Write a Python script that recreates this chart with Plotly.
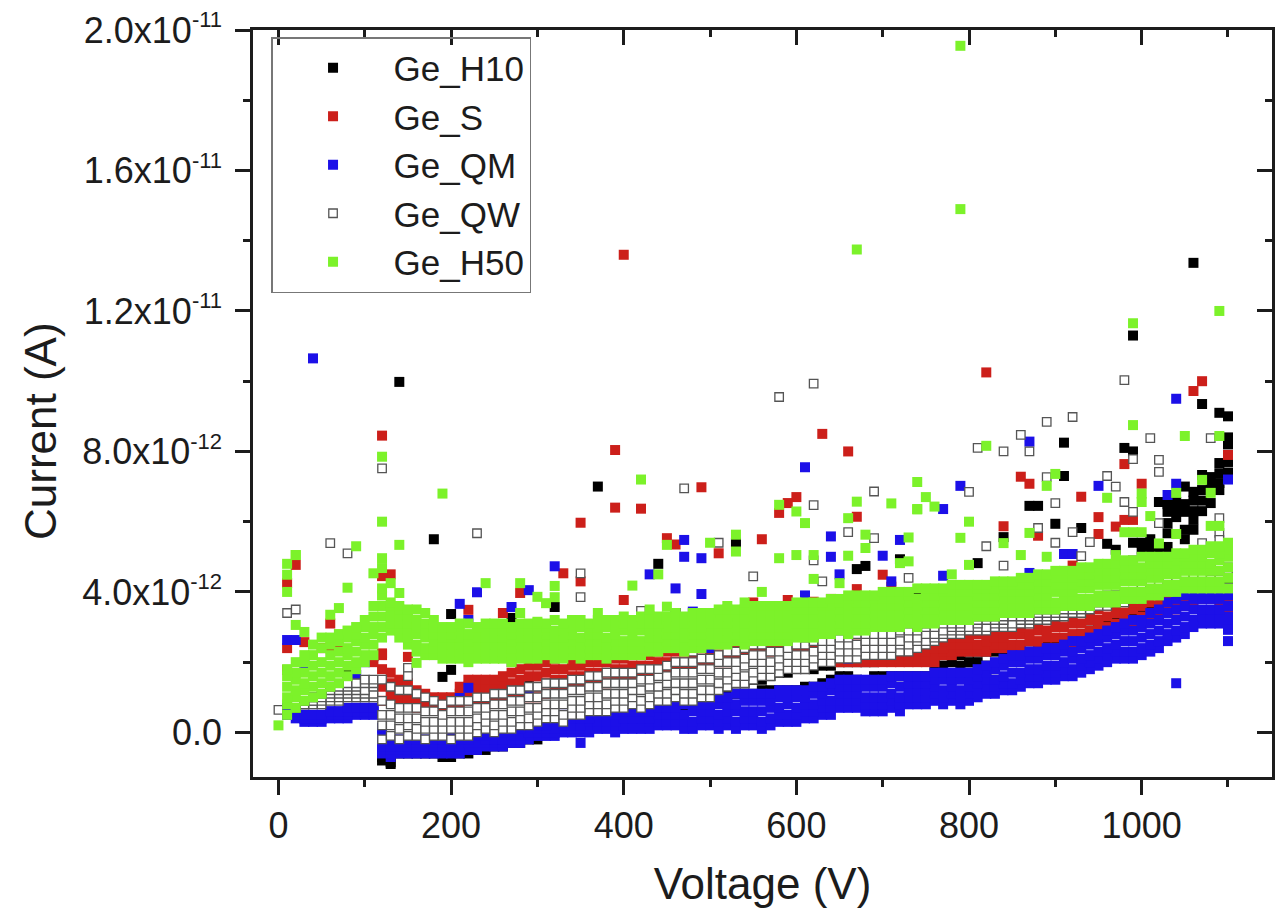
import plotly.graph_objects as go

SERIES_NAMES = ["Ge_H10", "Ge_S", "Ge_QM", "Ge_QW", "Ge_H50"]
X_TICKS = [0, 200, 400, 600, 800, 1000]
X_TICK_LABELS = ["0", "200", "400", "600", "800", "1000"]
Y_TICKS_PA = [0, 4, 8, 12, 16, 20]
SUP = '<sup><span style="font-size:22px">%s</span></sup>'
Y_TICK_LABELS = ["0.0", "4.0x10" + SUP % "-12", "8.0x10" + SUP % "-12", "1.2x10" + SUP % "-11",
                 "1.6x10" + SUP % "-11", "2.0x10" + SUP % "-11"]
PICOAMP = 1e-12

# Voltage grid of the sweep (V)
V = list(range(0, 1110, 10))
V10 = V[1:]
V20 = V[2:]
V120 = V[12:]

# Values below are in pA.
# Ge_H50 dense band, V = 10..1100
H50_1 = [.5,.7,.9,1.0,1.1,1.3,1.4,1.6,1.8,2.0,
 2.2,2.7,2.9,2.7,2.5,2.3,2.2,2.2,2.1,2.1,
 2.1,2.0,2.1,2.1,2.1,2.1,2.0,2.1,2.1,2.1,
 2.2,2.1,2.1,2.2,2.1,2.2,2.2,2.1,2.2,2.2,
 2.2,2.2,2.3,2.3,2.4,2.4,2.3,2.4,2.4,2.5,
 2.5,2.5,2.6,2.5,2.6,2.6,2.6,2.6,2.6,2.7,
 2.7,2.7,2.8,2.8,2.9,2.8,2.9,2.9,3.0,3.0,
 3.0,3.0,3.1,3.0,3.1,3.1,3.2,3.2,3.2,3.2,
 3.3,3.3,3.3,3.4,3.4,3.4,3.4,3.5,3.5,3.5,
 3.6,3.6,3.6,3.6,3.7,3.7,3.7,3.8,3.8,3.8,
 3.9,3.9,4.0,4.0,4.1,4.1,4.1,4.1,4.1,4.1]
H50_2 = [.8,1.0,1.2,1.3,1.4,1.6,1.7,1.9,2.0,2.2,
 2.5,3.0,3.1,2.9,2.7,2.5,2.4,2.4,2.3,2.3,
 2.3,2.2,2.3,2.3,2.3,2.3,2.2,2.3,2.3,2.3,
 2.4,2.3,2.3,2.4,2.3,2.4,2.4,2.3,2.4,2.4,
 2.4,2.4,2.5,2.5,2.6,2.6,2.5,2.6,2.6,2.7,
 2.7,2.7,2.8,2.7,2.8,2.8,2.8,2.8,2.8,2.9,
 2.9,2.9,3.0,3.0,3.1,3.0,3.1,3.1,3.2,3.2,
 3.2,3.2,3.3,3.2,3.3,3.3,3.4,3.4,3.4,3.4,
 3.5,3.5,3.5,3.6,3.6,3.6,3.6,3.7,3.7,3.7,
 3.8,3.8,3.8,3.8,3.9,3.9,3.9,4.0,4.0,4.0,
 4.1,4.1,4.2,4.2,4.3,4.3,4.3,4.3,4.3,4.4]
H50_3 = [1.0,1.2,1.4,1.6,1.7,1.9,2.0,2.2,2.3,2.5,
 2.8,3.3,3.3,3.1,2.9,2.8,2.7,2.6,2.5,2.5,
 2.5,2.4,2.5,2.5,2.5,2.5,2.4,2.5,2.5,2.5,
 2.6,2.5,2.5,2.6,2.5,2.6,2.6,2.5,2.6,2.6,
 2.6,2.6,2.7,2.7,2.8,2.8,2.7,2.8,2.8,2.9,
 2.9,2.9,3.0,2.9,3.0,3.0,3.0,3.0,3.0,3.1,
 3.1,3.1,3.2,3.2,3.3,3.2,3.3,3.3,3.4,3.4,
 3.4,3.4,3.5,3.4,3.5,3.5,3.6,3.6,3.6,3.6,
 3.7,3.7,3.7,3.8,3.8,3.8,3.8,3.9,3.9,4.0,
 4.0,4.0,4.1,4.1,4.2,4.2,4.2,4.3,4.3,4.3,
 4.4,4.4,4.5,4.5,4.6,4.6,4.6,4.6,4.6,4.7]
H50_4 = [1.3,1.5,1.7,1.9,2.0,2.2,2.3,2.4,2.6,2.7,
 3.0,3.6,3.4,3.3,3.1,3.0,2.9,2.8,2.7,2.7,
 2.7,2.6,2.7,2.7,2.7,2.7,2.6,2.7,2.7,2.7,
 2.8,2.7,2.7,2.8,2.7,2.8,2.8,2.7,2.8,2.9,
 2.8,2.9,2.9,2.9,3.0,3.0,2.9,3.0,3.0,3.1,
 3.1,3.1,3.2,3.1,3.2,3.2,3.2,3.2,3.2,3.3,
 3.3,3.3,3.4,3.4,3.5,3.4,3.5,3.5,3.6,3.6,
 3.6,3.6,3.7,3.6,3.7,3.7,3.8,3.8,3.8,3.8,
 3.9,3.9,3.9,4.0,4.0,4.0,4.0,4.1,4.1,4.2,
 4.2,4.2,4.3,4.3,4.4,4.4,4.4,4.5,4.5,4.5,
 4.6,4.6,4.6,4.7,4.8,4.8,4.8,4.8,4.9,5.0]
H50_5 = [1.6,1.7,2.0,2.2,2.4,2.5,2.6,2.7,2.8,3.0,
 3.3,3.9,3.6,3.5,3.3,3.2,3.1,3.0,2.9,2.8,
 2.9,2.8,2.9,2.9,2.9,2.9,2.8,2.9,2.9,2.9,
 3.0,2.9,2.9,3.0,3.0,3.0,3.0,3.0,3.0,3.1,
 3.0,3.1,3.1,3.1,3.2,3.2,3.1,3.2,3.2,3.3,
 3.3,3.3,3.4,3.3,3.4,3.4,3.4,3.4,3.4,3.5,
 3.5,3.5,3.6,3.6,3.7,3.6,3.7,3.7,3.8,3.8,
 3.8,3.8,3.9,3.8,3.9,3.9,4.0,4.0,4.0,4.0,
 4.1,4.1,4.1,4.2,4.2,4.2,4.2,4.3,4.3,4.4,
 4.4,4.4,4.5,4.5,4.6,4.6,4.6,4.7,4.7,4.7,
 4.8,4.8,4.8,4.9,5.0,5.0,5.0,5.1,5.1,5.2]
H50_6 = [1.8,2.0,2.2,2.5,2.7,2.7,2.8,2.9,3.0,3.2,
 3.6,4.1,3.7,3.6,3.5,3.5,3.4,3.2,3.0,3.0,
 3.1,3.1,3.0,3.1,3.1,3.1,3.0,3.1,3.1,3.1,
 3.1,3.2,3.1,3.2,3.2,3.1,3.2,3.2,3.2,3.3,
 3.2,3.3,3.3,3.3,3.3,3.4,3.3,3.4,3.4,3.4,
 3.5,3.5,3.5,3.5,3.6,3.6,3.6,3.6,3.6,3.7,
 3.7,3.7,3.7,3.8,3.8,3.8,3.9,3.9,3.9,4.0,
 4.0,4.0,4.0,4.1,4.1,4.1,4.1,4.2,4.2,4.2,
 4.2,4.2,4.3,4.3,4.3,4.4,4.4,4.5,4.5,4.6,
 4.6,4.6,4.7,4.7,4.8,4.8,4.8,4.9,4.9,5.0,
 5.0,5.0,5.0,5.1,5.1,5.2,5.2,5.3,5.3,5.4]
H50_OUT_V = [790,790,670,1090,990,990,120,120,190,20,10,420,580,600,610,670,710,740,660,680,680,730,730,720,620,600,580,660,
 530,530,500,450,450,410,440,370,430,520,540,560,620,650,660,740,750,760,740,800,790,820,1050,1090,900,890,960,1000,1000,
 1010,1040,1070,1080,1040,1080,1090,980,990,1000,870,840,860,890,800,780,1020,970,120,120,20,10,10,90,140,80,70,60,110,
 130,140,240,280,320,300,310,320,20,30,160,0,280,300]
H50_OUT_I = [19.55,14.9,13.75,12.0,11.65,8.75,6.0,7.85,6.8,5.05,4.8,7.2,6.48,6.29,5.96,6.57,6.52,6.35,6.1,5.63,5.25,5.55,4.87,4.82,5.05,5.05,4.96,5.03,
 5.63,5.15,5.4,5.34,3.58,4.18,4.5,3.4,3.5,3.6,3.7,4.0,4.37,4.25,3.9,7.13,6.7,6.43,6.36,6.0,5.54,8.16,8.44,8.44,7.36,7.02,6.68,6.8,6.56,
 6.16,6.82,7.19,6.82,5.65,5.88,5.88,5.7,5.7,5.7,5.68,5.39,5.05,5.0,4.77,4.5,5.38,5.05,4.96,4.68,5.05,4.49,4.0,5.3,5.34,4.12,3.54,3.35,4.53,
 4.25,3.97,4.25,4.25,4.17,3.86,3.68,3.85,3.06,2.86,1.98,0.2,3.4,3.15]

# Ge_QW dense band, V = 20..1100
QW_1 = [.7,.8,.8,.8,.9,.9,1.0,1.0,1.0,
 1.0,-.2,-.1,-.2,-.1,-.1,-.2,-.1,-.1,-.2,
 -.1,-.1,0,.1,0,.1,.1,.2,.2,.3,
 .4,.4,.3,.5,.5,.6,.6,.6,.7,.7,
 .8,.7,.8,.9,.9,1.0,.9,.9,1.0,1.0,
 1.2,1.3,1.4,1.4,1.5,1.6,1.6,1.7,1.8,1.8,
 1.8,1.9,2.0,2.0,2.1,2.1,2.1,2.2,2.2,2.2,
 2.2,2.3,2.3,2.4,2.5,2.6,2.7,2.8,2.8,2.9,
 2.9,2.9,3.0,3.0,3.0,3.1,3.1,3.2,3.2,3.3,
 3.3,3.4,3.4,3.5,3.6,3.6,3.7,3.7,3.8,3.9,
 4.0,4.1,4.1,4.2,4.2,4.3,4.3,4.4,4.4,4.5]
QW_2 = [.7,.8,.9,.9,1.0,1.0,1.1,1.1,1.1,
 1.1,.2,.2,.1,.2,.1,.1,.1,.1,.1,
 .1,.1,.2,.3,.2,.3,.3,.4,.4,.5,
 .6,.6,.5,.7,.7,.8,.8,.8,.9,.9,
 1.0,.9,1.0,1.1,1.1,1.2,1.1,1.1,1.2,1.2,
 1.4,1.5,1.6,1.6,1.7,1.8,1.8,1.9,2.0,2.0,
 2.0,2.1,2.2,2.2,2.3,2.3,2.3,2.4,2.4,2.4,
 2.4,2.5,2.5,2.6,2.6,2.7,2.8,2.9,2.9,3.0,
 3.0,3.0,3.1,3.1,3.1,3.2,3.2,3.3,3.3,3.4,
 3.4,3.5,3.5,3.6,3.7,3.7,3.8,3.8,3.9,4.0,
 4.1,4.1,4.2,4.3,4.3,4.4,4.4,4.5,4.5,4.6]
QW_3 = [.8,.9,.9,1.0,1.1,1.1,1.2,1.2,1.2,
 1.3,.5,.5,.4,.4,.4,.3,.3,.3,.3,
 .3,.3,.4,.5,.5,.5,.6,.6,.7,.7,
 .8,.8,.8,.9,.9,1.0,1.0,1.1,1.1,1.1,
 1.2,1.2,1.3,1.3,1.4,1.4,1.4,1.4,1.5,1.5,
 1.7,1.7,1.8,1.9,2.0,2.0,2.0,2.1,2.2,2.2,
 2.2,2.3,2.4,2.4,2.5,2.5,2.5,2.6,2.6,2.6,
 2.6,2.6,2.7,2.7,2.8,2.8,2.9,3.0,3.0,3.0,
 3.1,3.2,3.2,3.2,3.3,3.3,3.3,3.4,3.4,3.5,
 3.5,3.6,3.6,3.7,3.7,3.8,3.8,3.9,3.9,4.0,
 4.1,4.1,4.2,4.3,4.3,4.4,4.4,4.5,4.5,4.6]
QW_4 = [.8,.9,1.0,1.1,1.2,1.2,1.3,1.3,1.4,
 1.4,.9,.8,.7,.7,.7,.6,.6,.5,.6,
 .6,.6,.7,.7,.8,.8,.9,.9,1.0,1.0,
 1.1,1.1,1.1,1.2,1.2,1.3,1.3,1.4,1.4,1.4,
 1.4,1.5,1.5,1.6,1.6,1.7,1.7,1.7,1.8,1.8,
 2.0,2.0,2.0,2.1,2.2,2.2,2.3,2.3,2.4,2.5,
 2.5,2.6,2.6,2.6,2.7,2.7,2.8,2.8,2.8,2.8,
 2.8,2.9,2.9,2.9,3.0,3.0,3.1,3.1,3.1,3.2,
 3.2,3.3,3.3,3.3,3.4,3.4,3.4,3.5,3.5,3.6,
 3.6,3.6,3.7,3.7,3.8,3.8,3.9,3.9,4.0,4.1,
 4.2,4.2,4.2,4.3,4.4,4.4,4.5,4.5,4.6,4.6]
QW_5 = [.8,.9,1.0,1.2,1.3,1.3,1.4,1.4,1.5,
 1.5,1.5,1.3,1.2,1.2,1.1,1.0,.9,.8,.9,
 .9,.9,1.0,1.0,1.1,1.1,1.2,1.2,1.3,1.3,
 1.4,1.4,1.4,1.5,1.5,1.6,1.6,1.7,1.7,1.7,
 1.7,1.8,1.8,1.8,1.9,2.0,2.0,2.0,2.1,2.1,
 2.2,2.3,2.3,2.4,2.5,2.5,2.6,2.7,2.7,2.8,
 2.7,2.8,2.9,2.8,2.9,2.9,3.0,3.0,3.0,3.0,
 3.1,3.1,3.1,3.1,3.1,3.2,3.2,3.3,3.3,3.3,
 3.3,3.4,3.4,3.4,3.5,3.5,3.5,3.6,3.6,3.6,
 3.7,3.7,3.8,3.8,3.8,3.9,3.9,4.0,4.0,4.1,
 4.2,4.2,4.3,4.4,4.4,4.5,4.5,4.6,4.7,4.7]
QW_OUT_V = [0,60,80,230,10,20,350,350,270,330,150,150,470,690,620,660,690,510,550,620,630,420,480,730,
 580,620,980,120,920,890,860,810,840,870,1010,1080,1020,1020,990,960,970,800,890,980,990,900,880,920,900,940,820,1020,
 1090,1090,1090,1070,840,930,1000,990,980]
QW_OUT_I = [0.64,5.39,5.1,5.67,3.4,3.5,4.53,3.85,2.0,2.15,1.84,1.6,6.95,6.86,6.47,5.7,5.53,5.4,4.44,4.9,4.3,3.46,2.3,4.4,
 9.55,9.93,10.03,7.52,8.98,8.84,8.47,8.1,8.0,8.0,8.38,8.38,7.76,7.42,7.78,7.3,7.0,6.85,7.27,6.56,6.28,6.53,5.82,5.7,5.4,5.42,5.3,5.96,
 6.1,5.68,5.48,5.39,4.75,5.02,4.9,4.9,4.82]

# Ge_QM dense band, V = 10..1100
QM_1 = [.5,.4,.3,.3,.3,.4,.4,.4,.5,.5,
 .5,-.6,-.7,-.6,-.6,-.6,-.6,-.6,-.6,-.6,
 -.6,-.5,-.5,-.4,-.4,-.4,-.3,-.3,-.2,-.1,
 -.1,-.1,0,0,0,0,.1,.1,0,.1,
 .1,.1,.1,.2,.2,.2,.1,.1,.2,.2,
 .1,.2,.1,.2,.2,.1,.2,.3,.3,.3,
 .4,.4,.5,.5,.7,.7,.7,.6,.6,.6,
 .7,.6,.8,.8,.8,.9,.8,.9,.8,.9,
 1.0,1.1,1.1,1.2,1.2,1.3,1.4,1.4,1.5,1.5,
 1.6,1.6,1.7,1.8,1.9,2.0,2.1,2.1,2.1,2.2,
 2.3,2.4,2.6,2.7,2.8,3.0,3.1,3.1,3.1,3.1]
QM_2 = [.6,.5,.4,.4,.4,.5,.5,.5,.6,.6,
 .6,-.5,-.6,-.5,-.5,-.5,-.5,-.5,-.5,-.5,
 -.5,-.4,-.4,-.3,-.3,-.3,-.2,-.2,-.1,0,
 0,0,.1,.1,.1,.1,.2,.2,.2,.2,
 .2,.2,.3,.3,.3,.3,.3,.3,.4,.4,
 .3,.4,.3,.4,.4,.3,.4,.5,.5,.5,
 .6,.6,.7,.7,.9,.9,.9,.8,.8,.8,
 .9,.8,1.0,1.0,1.0,1.1,1.0,1.1,1.0,1.1,
 1.2,1.3,1.3,1.4,1.4,1.5,1.6,1.6,1.7,1.7,
 1.8,1.8,1.9,2.0,2.1,2.2,2.3,2.3,2.3,2.4,
 2.5,2.6,2.8,2.9,3.0,3.2,3.3,3.3,3.3,3.3]
QM_3 = [.6,.5,.4,.4,.4,.5,.5,.6,.6,.6,
 .6,-.4,-.5,-.4,-.4,-.4,-.4,-.4,-.4,-.4,
 -.4,-.3,-.3,-.2,-.2,-.2,-.1,-.1,0,.1,
 .1,.1,.2,.2,.2,.3,.3,.3,.3,.4,
 .4,.4,.4,.5,.5,.5,.5,.6,.6,.6,
 .5,.6,.6,.6,.6,.6,.7,.7,.8,.7,
 .8,.8,.9,.9,1.1,1.1,1.1,1.0,1.0,1.0,
 1.1,1.0,1.2,1.2,1.2,1.3,1.2,1.3,1.2,1.3,
 1.4,1.5,1.5,1.6,1.7,1.7,1.8,1.8,1.9,1.9,
 2.0,2.1,2.1,2.2,2.3,2.4,2.5,2.6,2.6,2.7,
 2.8,2.9,3.1,3.2,3.3,3.5,3.5,3.5,3.5,3.6]
QM_4 = [.7,.6,.5,.5,.5,.6,.6,.6,.7,.7,
 .7,-.3,-.4,-.3,-.3,-.3,-.3,-.3,-.3,-.3,
 -.2,-.2,-.1,-.1,0,0,.1,.1,.2,.2,
 .2,.3,.3,.4,.4,.4,.5,.5,.5,.6,
 .6,.6,.6,.7,.7,.7,.8,.8,.8,.8,
 .8,.8,.8,.9,.9,.9,.9,1.0,1.0,1.0,
 1.0,1.1,1.1,1.2,1.3,1.3,1.3,1.3,1.3,1.3,
 1.4,1.3,1.4,1.4,1.4,1.5,1.5,1.5,1.5,1.5,
 1.6,1.7,1.8,1.9,2.0,2.0,2.1,2.1,2.2,2.2,
 2.3,2.3,2.4,2.5,2.6,2.7,2.8,2.9,2.9,3.0,
 3.1,3.2,3.4,3.5,3.6,3.8,3.8,3.8,3.8,3.9]
QM_5 = [.7,.6,.5,.5,.5,.6,.6,.7,.7,.7,
 .7,-.1,-.2,-.2,-.2,-.2,-.2,-.2,-.2,-.1,
 -.1,-.1,0,0,.1,.1,.2,.2,.3,.3,
 .4,.4,.5,.5,.5,.6,.6,.6,.7,.7,
 .8,.8,.8,.9,.9,.9,1.0,1.0,1.0,1.0,
 1.0,1.0,1.1,1.1,1.1,1.1,1.1,1.2,1.2,1.2,
 1.2,1.3,1.3,1.4,1.5,1.5,1.5,1.5,1.5,1.5,
 1.6,1.6,1.6,1.6,1.6,1.7,1.7,1.7,1.7,1.7,
 1.8,1.9,2.0,2.1,2.2,2.2,2.3,2.3,2.4,2.4,
 2.5,2.6,2.6,2.7,2.8,2.9,3.0,3.1,3.2,3.2,
 3.4,3.5,3.7,3.8,3.9,4.0,4.0,4.0,4.0,4.1]
QM_OUT_V = [40,610,320,290,230,210,220,270,10,20,30,90,100,220,210,290,120,470,470,490,430,460,490,480,640,640,700,720,650,710,610,500,660,
 1040,870,790,770,950,1030,1040,910,920,870,770,1100,1040,1100,1100,350]
QM_OUT_I = [10.65,7.55,4.73,4.05,3.99,3.66,3.2,3.57,2.63,2.63,1.95,1.64,2.0,1.27,.98,1.13,.13,5.48,5.0,4.96,4.5,4.1,3.94,3.44,5.58,5.0,5.03,5.48,4.5,4.3,3.9,2.4,2.1,
 9.5,8.28,7.02,6.36,7.02,6.76,7.08,5.08,5.08,4.54,4.46,7.2,1.4,2.92,2.6,-.3]

# Ge_S dense band, V = 120..1100
S_1 = [.9,.9,.9,.8,.7,.7,.7,.7,.7,
 .8,.9,.9,.9,.9,1.0,1.0,1.0,1.0,1.0,
 1.1,1.2,1.2,1.3,1.3,1.4,1.4,1.4,1.5,1.5,
 1.6,1.6,1.7,1.7,1.8,1.8,1.8,1.9,1.9,2.0,
 2.0,2.0,2.1,2.1,2.2,2.2,2.3,2.3,2.4,2.4,
 2.3,2.3,2.2,2.1,2.0,2.0,2.0,2.0,2.0,2.0,
 2.0,2.0,2.0,2.0,2.0,2.0,2.2,2.2,2.3,2.3,
 2.3,2.3,2.4,2.4,2.4,2.4,2.3,2.4,2.4,2.4,
 2.5,2.5,2.6,2.6,2.7,2.8,2.9,3.0,3.0,3.1,
 3.2,3.3,3.4,3.5,3.6,3.7,3.8,3.8,3.7,3.5]
S_2 = [1.3,1.1,1.1,1.0,.9,.9,.8,.8,.8,
 .9,1.1,1.1,1.1,1.1,1.2,1.2,1.3,1.3,1.3,
 1.4,1.5,1.5,1.6,1.6,1.7,1.7,1.7,1.8,1.8,
 1.9,1.9,1.9,2.0,2.0,2.0,2.0,2.1,2.1,2.2,
 2.2,2.2,2.3,2.3,2.4,2.4,2.5,2.5,2.5,2.6,
 2.4,2.4,2.3,2.2,2.1,2.1,2.1,2.1,2.1,2.1,
 2.1,2.1,2.1,2.1,2.1,2.2,2.3,2.3,2.4,2.4,
 2.4,2.4,2.5,2.5,2.5,2.5,2.6,2.6,2.7,2.7,
 2.7,2.8,2.8,2.9,3.0,3.0,3.1,3.2,3.2,3.3,
 3.4,3.5,3.6,3.7,3.8,3.9,3.9,3.9,3.9,3.7]
S_3 = [1.8,1.4,1.3,1.2,1.0,1.0,.9,.9,.9,
 1.1,1.3,1.3,1.3,1.3,1.4,1.4,1.5,1.6,1.6,
 1.7,1.8,1.8,1.9,1.9,2.0,2.0,2.0,2.1,2.1,
 2.2,2.2,2.2,2.3,2.3,2.3,2.3,2.4,2.4,2.5,
 2.5,2.5,2.5,2.6,2.6,2.6,2.7,2.7,2.7,2.8,
 2.6,2.6,2.5,2.4,2.3,2.2,2.2,2.2,2.2,2.2,
 2.2,2.2,2.2,2.3,2.3,2.4,2.4,2.5,2.5,2.5,
 2.5,2.6,2.7,2.7,2.8,2.8,2.8,2.9,2.9,3.0,
 3.0,3.1,3.1,3.2,3.2,3.3,3.4,3.4,3.5,3.6,
 3.7,3.7,3.8,3.9,4.0,4.0,4.0,4.0,4.0,3.9]
S_4 = [2.2,1.7,1.5,1.4,1.2,1.1,1.0,1.0,1.0,
 1.3,1.5,1.5,1.5,1.5,1.6,1.7,1.8,1.9,1.9,
 2.0,2.1,2.2,2.1,2.2,2.3,2.3,2.3,2.3,2.3,
 2.4,2.4,2.5,2.5,2.5,2.6,2.6,2.6,2.6,2.7,
 2.7,2.7,2.8,2.8,2.8,2.8,2.9,2.9,2.9,2.9,
 2.8,2.8,2.7,2.7,2.7,2.6,2.5,2.4,2.3,2.3,
 2.3,2.3,2.4,2.5,2.5,2.6,2.6,2.7,2.7,2.7,
 2.8,2.8,2.9,2.9,3.0,3.0,3.1,3.1,3.2,3.2,
 3.3,3.3,3.4,3.4,3.5,3.6,3.6,3.7,3.7,3.8,
 3.9,3.9,4.0,4.0,4.1,4.1,4.1,4.1,4.1,4.1]
S_OUT_V = [400,390,390,820,630,660,1060,1070,120,350,20,10,130,120,60,50,60,70,30,10,10,150,120,110,280,260,220,330,350,
 490,420,600,590,580,450,460,510,560,670,400,550,590,620,640,700,710,670,
 860,870,930,1000,980,950,970,950,980,990,840,880,920,1100]
S_OUT_I = [13.6,8.04,6.4,10.25,8.5,8.0,9.72,10.0,8.45,4.3,4.77,4.25,4.5,4.45,3.1,2.4,2.4,2.4,2.57,2.4,1.78,2.15,2.25,2.0,3.97,3.4,3.49,4.53,5.97,
 6.98,6.37,6.7,6.53,6.25,5.53,5.35,5.1,5.5,6.14,3.77,3.7,3.77,3.72,3.8,4.49,4.15,4.08,
 7.28,7.08,6.71,7.08,7.64,6.13,5.86,5.65,6.05,6.05,5.87,5.6,4.75,7.9]

# Ge_H10 dense band, V = 120..1100
H10_1 = [-.8,-.9,-.6,-.6,-.6,-.6,-.6,-.7,-.7,
 -.6,-.6,-.5,-.5,-.4,-.4,-.3,-.3,-.2,-.2,
 0,0,.1,.1,.2,.2,.3,.3,.4,.4,
 .5,.5,.6,.6,.7,.7,.7,.8,.8,.9,
 1.0,1.1,1.1,1.1,1.1,1.2,1.2,1.2,1.2,1.2,
 1.3,1.3,1.4,1.5,1.6,1.6,1.5,1.4,1.6,1.6,
 1.6,1.6,1.6,1.6,1.6,1.6,1.6,1.6,1.6,1.7,
 1.7,1.7,1.8,2.0,2.1,2.2,2.3,2.4,2.5,2.6,
 2.6,2.7,2.8,2.9,3.0,3.1,3.2,3.3,3.4,3.5,
 3.6,3.7,3.9,4.0,4.1,4.2,4.2,4.2,4.2,4.2]
H10_2_V = [510,520,530,540,550,560,570,580,590,600,610,620,630,640,650,660,670,680,690,700,
 710,720,730,740,750,760,770,780,790,800,810,820,830,840,850]
H10_2 = [1.3,1.3,1.4,1.4,1.5,1.5,1.6,1.7,1.7,1.8,1.8,1.8,1.9,1.9,2.0,2.0,2.0,2.0,2.0,2.1,
 2.1,2.1,2.1,2.1,2.1,2.1,2.2,2.2,2.2,2.3,2.3,2.3,2.3,2.3,2.2]
H10_3_V = [760,770,780,790,800,810,820,830,840]
H10_3 = [1.9,1.9,2.0,1.9,2.0,2.0,1.9,1.9,2.0]
H10_OUT_V = [120,130,1060,990,140,1070,1090,1100,1100,1100,980,990,910,910,870,880,900,930,840,810,960,180,200,270,320,110,80,190,200,290,
 370,440,460,530,670,680,720,740,
 1020,1020,1030,1030,1030,1030,1030,1040,1040,1040,1050,1050,1050,1050,1050,1060,1060,1060,1060,1060,1070,1070,1070,1070,
 1080,1080,1080,1090,1090,1090,1090,1100,1100,990,1000,1000,1010,1010,970]
H10_OUT_I = [-.7,-.85,13.37,11.3,9.98,9.35,9.1,9.0,8.4,8.2,8.1,8.0,8.25,7.3,6.45,6.45,5.94,5.82,5.56,4.82,5.37,5.5,3.37,3.26,3.57,2.17,1.69,1.58,1.78,1.5,
 7.0,4.8,3.4,5.4,4.65,4.74,4.93,3.84,
 6.56,5.2,6.5,6.28,5.96,5.67,5.28,6.56,6.3,6.13,7.0,6.5,6.28,5.77,5.5,6.85,6.6,6.3,6.05,5.77,7.33,6.9,6.6,6.3,
 7.27,7.05,6.53,7.67,7.38,7.1,6.9,7.7,7.4,5.4,5.4,5.2,5.5,5.25,5.2]

AXIS_COLOR = "#1c1c1c"
TEXT_COLOR = "#1c1c1c"
FONT = "Liberation Sans, Arial, sans-serif"
COLORS = {"Ge_H10": "#000000", "Ge_S": "#cc1f1a", "Ge_QM": "#1c10e8", "Ge_H50": "#7cf22a"}
MARKER_SIZE = 10


def amps(*rows):
    out = []
    for r in rows:
        out += [v * PICOAMP for v in r]
    return out


fig = go.Figure()

fig.add_trace(go.Scatter(
    name=SERIES_NAMES[0], mode="markers",
    x=V120 + H10_2_V + H10_3_V + H10_OUT_V,
    y=amps(H10_1, H10_2, H10_3, H10_OUT_I),
    marker=dict(symbol="square", size=MARKER_SIZE, color=COLORS["Ge_H10"], line=dict(width=0))))
fig.add_trace(go.Scatter(
    name=SERIES_NAMES[1], mode="markers",
    x=V120 * 4 + S_OUT_V,
    y=amps(S_1, S_2, S_3, S_4, S_OUT_I),
    marker=dict(symbol="square", size=MARKER_SIZE, color=COLORS["Ge_S"], line=dict(width=0))))
fig.add_trace(go.Scatter(
    name=SERIES_NAMES[2], mode="markers",
    x=V10 * 5 + QM_OUT_V,
    y=amps(QM_1, QM_2, QM_3, QM_4, QM_5, QM_OUT_I),
    marker=dict(symbol="square", size=MARKER_SIZE, color=COLORS["Ge_QM"], line=dict(width=0))))
fig.add_trace(go.Scatter(
    name=SERIES_NAMES[3], mode="markers",
    x=V20 * 5 + QW_OUT_V,
    y=amps(QW_1, QW_2, QW_3, QW_4, QW_5, QW_OUT_I),
    marker=dict(symbol="square", size=8.5, color="#ffffff", line=dict(width=1.3, color="#555555"))))
fig.add_trace(go.Scatter(
    name=SERIES_NAMES[4], mode="markers",
    x=V10 * 6 + H50_OUT_V,
    y=amps(H50_1, H50_2, H50_3, H50_4, H50_5, H50_6, H50_OUT_I),
    marker=dict(symbol="square", size=MARKER_SIZE, color=COLORS["Ge_H50"], line=dict(width=0))))
# Empty trace that brings the top and right axes into the figure
fig.add_trace(go.Scatter(x=[None], y=[None], xaxis="x2", yaxis="y2", mode="markers",
                         showlegend=False, hoverinfo="skip"))

x_range = [-29.5, 1151]
y_range = [-1.27 * PICOAMP, 20.0 * PICOAMP]
y_ticks = [t * PICOAMP for t in Y_TICKS_PA]
line = dict(showline=True, linecolor=AXIS_COLOR, linewidth=2.5, showgrid=False, zeroline=False,
            tickwidth=2.5, tickcolor=AXIS_COLOR)


def minor(dtick, direction):
    return dict(dtick=dtick, tick0=0, ticks=direction, ticklen=7, tickwidth=2.5,
                tickcolor=AXIS_COLOR, showgrid=False)


fig.update_layout(
    width=1276, height=912, autosize=False,
    margin=dict(l=253, r=4, t=30, b=135),
    paper_bgcolor="white", plot_bgcolor="white",
    font=dict(family=FONT, size=36, color=TEXT_COLOR),
    showlegend=True,
    legend=dict(x=0.0177, y=0.9906, xanchor="left", yanchor="top",
                bgcolor="rgba(255,255,255,0)", bordercolor="#777777", borderwidth=1.5,
                font=dict(family=FONT, size=35, color=TEXT_COLOR),
                itemwidth=111, itemsizing="trace", tracegroupgap=0,
                entrywidth=151, entrywidthmode="pixels"),
    xaxis=dict(range=x_range, tickmode="array", tickvals=X_TICKS, ticktext=X_TICK_LABELS,
               ticks="outside", ticklen=15, minor=minor(100, "outside"), **line,
               title=dict(text="Voltage (V)", font=dict(size=44, family=FONT, color=TEXT_COLOR), standoff=24)),
    yaxis=dict(range=y_range, tickmode="array", tickvals=y_ticks, ticktext=Y_TICK_LABELS,
               ticks="outside", ticklen=15, ticklabelstandoff=6, minor=minor(2 * PICOAMP, "outside"), **line),
    xaxis2=dict(range=x_range, overlaying="x", side="top", anchor="y2", tickmode="array", tickvals=X_TICKS,
                showticklabels=False, ticks="inside", ticklen=15, minor=minor(100, "inside"), **line),
    yaxis2=dict(range=y_range, overlaying="y", side="right", anchor="x2", tickmode="array", tickvals=y_ticks,
                showticklabels=False, ticks="inside", ticklen=15, minor=minor(2 * PICOAMP, "inside"), **line),
    annotations=[dict(text="Current (A)", textangle=-90, xref="paper", yref="paper",
                      x=(40 - 253) / 1019, y=(777 - 431) / 747, xanchor="center", yanchor="middle",
                      showarrow=False, font=dict(size=44, family=FONT, color=TEXT_COLOR))],
)

fig.write_html("out.html", post_script="document.body.style.margin='0';",
               config={"displayModeBar": False})
